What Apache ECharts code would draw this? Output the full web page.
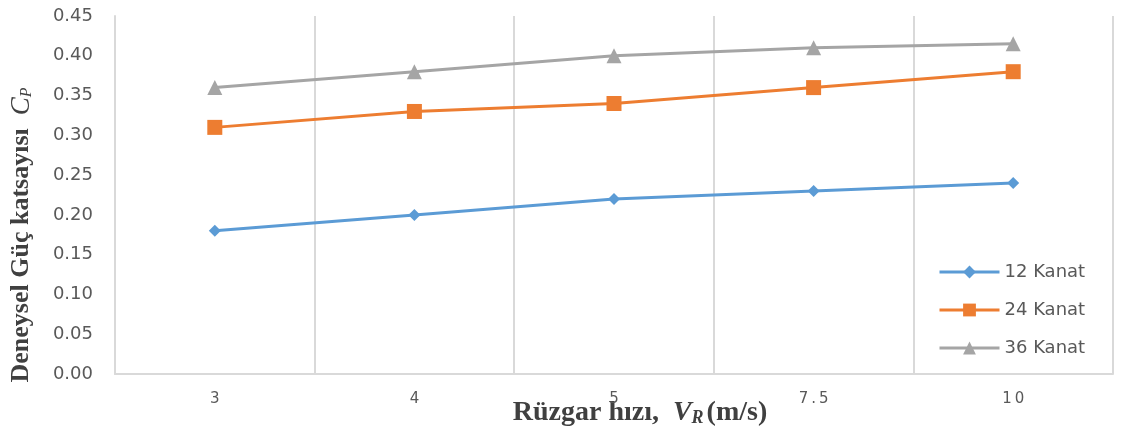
<!DOCTYPE html>
<html><head><meta charset="utf-8">
<script src="https://cdn.jsdelivr.net/npm/echarts@6/dist/echarts.min.js"></script>
<style>html,body{margin:0;padding:0;background:#fff}#c{width:1121px;height:432px}</style>
</head><body><div id="c"></div>
<script>
const categories = ['3', '4', '5', '7.5', '10'];
const kanat12 = [0.18, 0.20, 0.22, 0.23, 0.24];
const kanat24 = [0.31, 0.33, 0.34, 0.36, 0.38];
const kanat36 = [0.36, 0.38, 0.40, 0.41, 0.415];
const seriesNames = ['12 Kanat', '24 Kanat', '36 Kanat'];

const chart = echarts.init(document.getElementById('c'));
const titleFont = '"Liberation Serif", "Times New Roman", serif';
const labelFont = '"DejaVu Sans", sans-serif';
chart.setOption({
  animation: false,
  grid: { left: 115, right: 8, top: 16, bottom: 58, containLabel: false, outerBoundsMode: 'none' },
  legend: {
    orient: 'vertical', left: 933, top: 258, itemGap: 20, itemWidth: 60, itemHeight: 16,
    lineStyle: { width: 3 },
    textStyle: { fontFamily: labelFont, fontSize: 18, color: '#595959', padding: [0, 0, 0, 0] },
    data: seriesNames
  },
  xAxis: {
    type: 'category', data: categories, boundaryGap: true,
    axisLine: { lineStyle: { color: '#d9d9d9', width: 2 } },
    axisTick: { show: false },
    splitLine: { show: true, lineStyle: { color: '#d9d9d9', width: 2 } },
    axisLabel: { margin: 18, fontSize: 15, color: '#595959', fontFamily: labelFont,
      formatter: v => v.split('').join('\u2009') },
    name: '{b|Rüzgar hızı,  }{i|V}{s|R}{b|(m/s)}', nameLocation: 'middle', nameGap: 24,
    nameMoveOverlap: false,
    nameTextStyle: { padding: [0, 0, 0, 52], rich: {
      b: { fontFamily: titleFont, fontWeight: 'bold', fontSize: 28, color: '#404040' },
      i: { fontFamily: titleFont, fontWeight: 'bold', fontStyle: 'italic', fontSize: 28, color: '#404040' },
      s: { fontFamily: titleFont, fontWeight: 'bold', fontStyle: 'italic', fontSize: 18, color: '#404040', padding: [11, 3, 0, 0] }
    } }
  },
  yAxis: {
    type: 'value', min: 0, max: 0.45, interval: 0.05,
    axisLine: { show: true, lineStyle: { color: '#d9d9d9', width: 2 } },
    axisTick: { show: false },
    splitLine: { show: false },
    axisLabel: { margin: 22, fontSize: 18, color: '#595959', fontFamily: labelFont,
      formatter: v => v.toFixed(2) },
    name: '{b|Deneysel Güç katsayısı  }{i|C}{s|P}', nameLocation: 'middle', nameGap: 80, nameRotate: 90,
    nameMoveOverlap: false,
    nameTextStyle: { padding: [0, 80, 0, 0], rich: {
      b: { fontFamily: titleFont, fontWeight: 'bold', fontSize: 26, color: '#404040' },
      i: { fontFamily: titleFont, fontStyle: 'italic', fontSize: 27, color: '#404040' },
      s: { fontFamily: titleFont, fontStyle: 'italic', fontSize: 16, color: '#404040', padding: [10, 0, 0, 0] }
    } }
  },
  series: [
    { name: seriesNames[0], type: 'line', data: kanat12, symbol: 'diamond', symbolSize: 12,
      color: '#5B9BD5', lineStyle: { width: 3 } },
    { name: seriesNames[1], type: 'line', data: kanat24, symbol: 'rect', symbolSize: 15,
      color: '#ED7D31', lineStyle: { width: 3 } },
    { name: seriesNames[2], type: 'line', data: kanat36, symbol: 'triangle', symbolSize: 15,
      color: '#A5A5A5', lineStyle: { width: 3 } }
  ]
});
</script></body></html>
